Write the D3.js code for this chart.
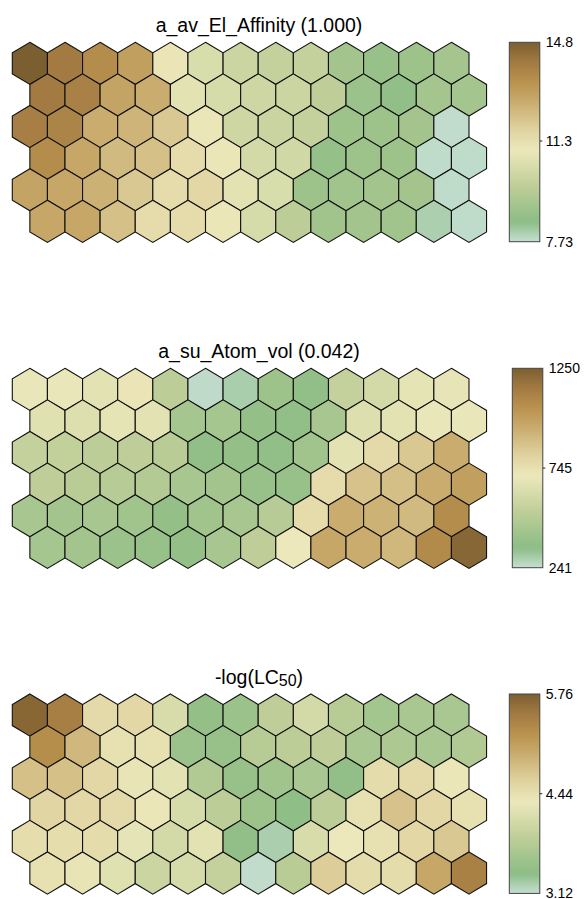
<!DOCTYPE html>
<html><head><meta charset="utf-8">
<script src="https://cdn.jsdelivr.net/npm/d3@7"></script>
<style>body{margin:0;background:#fff}svg{display:block}text{font-family:Arial,"Liberation Sans",sans-serif;fill:#000}</style>
</head><body><svg id="c" width="585" height="899"></svg>
<script>
const titles = ["a_av_El_Affinity (1.000)", "a_su_Atom_vol (0.042)", "-log(LC50)"];
const ranges = [[7.73, 14.8], [241, 1250], [3.12, 5.76]];
const tickLabels = [["7.73", "11.3", "14.8"], ["241", "745", "1250"], ["3.12", "4.44", "5.76"]];
const tickValues = [[7.73, 11.3, 14.8], [241, 745, 1250], [3.12, 4.44, 5.76]];

const elAffinity = [
  [14.80, 14.09, 13.53, 13.03, 11.12, 10.42, 10.06, 9.85, 9.85, 9.00, 8.72, 8.86, 9.07],
  [14.09, 13.88, 12.89, 12.68, 10.70, 10.35, 10.13, 10.06, 9.71, 8.79, 8.58, 9.07, 9.07],
  [13.95, 13.81, 12.68, 12.47, 11.97, 11.05, 10.13, 9.99, 9.85, 8.86, 8.86, 9.00, 7.78],
  [13.53, 12.82, 12.33, 12.18, 11.41, 11.05, 10.28, 10.20, 8.65, 8.86, 8.86, 7.80, 7.80],
  [12.89, 12.82, 12.54, 11.97, 11.41, 11.55, 10.70, 10.42, 8.86, 8.93, 9.00, 9.00, 7.80],
  [12.82, 12.82, 12.18, 11.41, 11.41, 11.05, 10.35, 9.64, 8.93, 9.00, 8.93, 8.05, 7.80]
];
const atomVol = [
  [695, 695, 665, 725, 513, 252, 290, 402, 362, 544, 604, 675, 685],
  [655, 645, 675, 665, 433, 433, 372, 362, 443, 645, 665, 695, 695],
  [544, 534, 513, 524, 503, 362, 372, 362, 413, 665, 776, 846, 947],
  [524, 503, 493, 483, 443, 423, 382, 382, 766, 867, 877, 947, 998],
  [443, 423, 443, 413, 372, 413, 443, 493, 766, 947, 927, 897, 1068],
  [433, 423, 392, 382, 372, 443, 524, 705, 967, 947, 907, 1078, 1220]
];
const logLC50 = [
  [5.68, 5.44, 4.52, 4.55, 4.12, 3.46, 3.52, 3.86, 4.07, 3.78, 3.60, 3.65, 3.65],
  [5.28, 4.86, 4.44, 4.44, 3.52, 3.49, 3.78, 3.83, 3.86, 3.65, 3.70, 3.65, 3.73],
  [4.78, 4.78, 4.55, 4.39, 4.23, 3.73, 3.49, 3.57, 3.65, 3.44, 4.49, 4.52, 4.36],
  [4.57, 4.55, 4.52, 4.36, 4.10, 3.83, 3.54, 3.41, 3.83, 4.44, 4.76, 4.55, 4.44],
  [4.47, 4.47, 4.49, 4.26, 4.07, 4.23, 3.44, 3.24, 4.12, 4.33, 4.44, 4.55, 4.70],
  [4.44, 4.39, 4.20, 3.99, 4.10, 3.91, 3.14, 3.81, 4.65, 4.49, 4.49, 5.02, 5.42]
];
const planes = [elAffinity, atomVol, logLC50];

const colorStops = [0, 0.10, 0.28, 0.46, 0.56, 0.70, 0.80, 0.90, 1.0];
const colorHex = ["#c5ded1", "#8cbd85", "#bfce98", "#ece8bb", "#e0d3a0", "#c9ac6e", "#b9924e", "#a27a42", "#7c5f30"];

const svg = d3.select("#c");
const hexW = 35.13, hexRy = 21.05, rowStep = 31.6;
const gridLeft = 12.3;
const panelTops = [42.3, 368.3, 694];
const barX = [509.3, 512.3, 509.3];
const barW = 30.5, barH = 199.4;

const x = d3.scaleLinear().domain([0, 1]).range([gridLeft + hexW / 2, gridLeft + hexW / 2 + hexW]);
const yRow = d3.scaleLinear().domain([0, 1]).range([hexRy, hexRy + rowStep]);

function hexPath(cx, cy) {
  const pts = [[0, -hexRy], [hexW / 2, -hexRy / 2], [hexW / 2, hexRy / 2], [0, hexRy], [-hexW / 2, hexRy / 2], [-hexW / 2, -hexRy / 2]];
  return "M" + pts.map(p => [cx + p[0], cy + p[1]].join(",")).join("L") + "Z";
}

const defs = svg.append("defs");

planes.forEach((data, pi) => {
  const [lo, hi] = ranges[pi];
  const color = d3.scaleLinear()
    .domain(colorStops.map(s => lo + s * (hi - lo)))
    .range(colorHex)
    .interpolate(d3.interpolateRgb)
    .clamp(true);
  const top = panelTops[pi];
  const g = svg.append("g").attr("transform", `translate(0,${top})`);

  const cells = [];
  data.forEach((row, r) => row.forEach((v, c) => cells.push({ r, c, v })));
  g.selectAll("path.hex").data(cells).join("path")
    .attr("class", "hex")
    .attr("d", d => hexPath(x(d.c + (d.r % 2) * 0.5), yRow(d.r)))
    .attr("fill", d => color(d.v))
    .attr("stroke", "#111")
    .attr("stroke-width", 1.1)
    .attr("stroke-linejoin", "miter");

  // title
  const t = svg.append("text")
    .attr("x", 259)
    .attr("y", top - 10.5)
    .attr("text-anchor", "middle")
    .style("font-size", "19.5px");
  if (pi === 2) {
    t.append("tspan").text("-log(LC");
    t.append("tspan").text("50").style("font-size", "16px").attr("dy", 2.5);
    t.append("tspan").text(")").attr("dy", -2.5);
  } else {
    t.text(titles[pi]);
  }

  // colorbar
  const gid = "grad" + pi;
  const grad = defs.append("linearGradient").attr("id", gid)
    .attr("x1", 0).attr("y1", 1).attr("x2", 0).attr("y2", 0);
  d3.range(0, 1.0001, 1 / 64).forEach(f => {
    grad.append("stop").attr("offset", f).attr("stop-color", color(lo + f * (hi - lo)));
  });
  const yBar = d3.scaleLinear().domain([lo, hi]).range([top + barH, top]);
  svg.append("rect")
    .attr("x", barX[pi]).attr("y", top)
    .attr("width", barW).attr("height", barH)
    .attr("fill", `url(#${gid})`)
    .attr("stroke", "#444").attr("stroke-width", 1);
  const bx = barX[pi] + barW;
  svg.append("line")
    .attr("x1", bx).attr("x2", bx + 2.5)
    .attr("y1", yBar(tickValues[pi][1])).attr("y2", yBar(tickValues[pi][1]))
    .attr("stroke", "#222").attr("stroke-width", 1);
  tickValues[pi].forEach((tv, i) => {
    svg.append("text")
      .attr("x", bx + 6)
      .attr("y", yBar(tv))
      .attr("dy", "0.36em")
      .style("font-size", "14px")
      .text(tickLabels[pi][i]);
  });
});
</script></body></html>
